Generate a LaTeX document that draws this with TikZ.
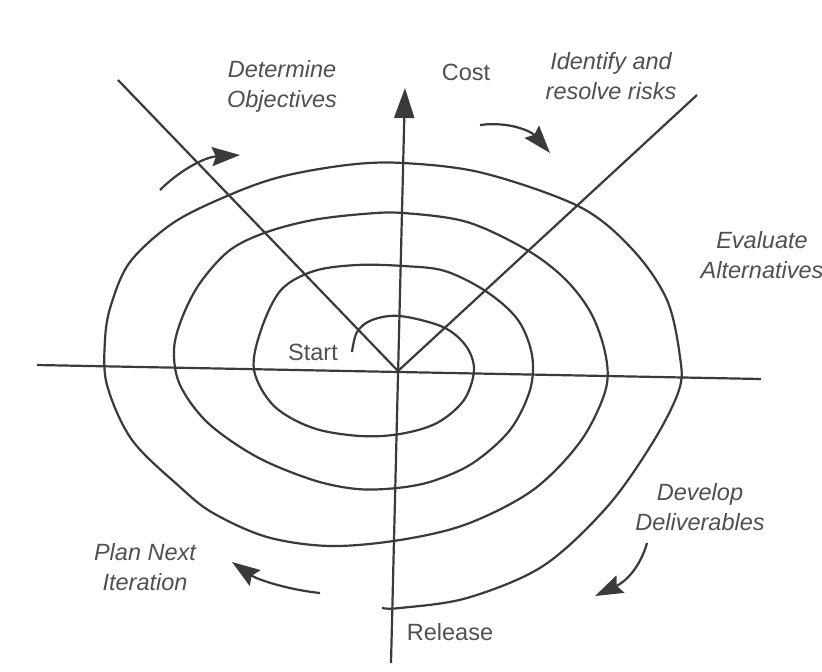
\documentclass[tikz,border=0pt]{standalone}
\usepackage{fontspec}
\setmainfont{Liberation Sans}
\usetikzlibrary{arrows.meta}
\definecolor{inkgrey}{HTML}{3A3A3A}
\definecolor{labelgrey}{HTML}{505050}

\begin{document}
\begin{tikzpicture}[x=1pt, y=-1pt]
  \tikzstyle{quadline}=[draw=inkgrey, line width=2.2pt]
  \tikzstyle{spiral}=[draw=inkgrey, line width=2.2pt, line join=round]
  \tikzstyle{flowarrow}=[draw=inkgrey, line width=2.2pt,
    -{Stealth[length=28pt, width=19pt, inset=4pt]}]
  \tikzstyle{lbl}=[text=labelgrey, align=center, inner sep=0pt,
    font=\fontsize{23.5}{30}\selectfont\itshape]
  \tikzstyle{uplbl}=[text=labelgrey, inner sep=0pt,
    font=\fontsize{23.5}{30}\selectfont]

  \fill[white] (0,0) rectangle (822,672);
  \useasboundingbox (0,0) rectangle (822,672);

  % axes
  \coordinate (ctr)   at (398,371);
  \coordinate (west)  at (37,365);
  \coordinate (east)  at (761,379);
  \coordinate (north) at (405,88);
  \coordinate (south) at (391,663);
  \coordinate (nw)    at (118,80);
  \coordinate (ne)    at (697,95);

  \draw[quadline] (west) -- (east);
  \draw[quadline, -{Triangle[length=30pt, width=20pt]}] (south) -- (north);
  \draw[quadline] (nw) -- (ctr) -- (ne);

  % spiral from Start out to Release
  \draw[spiral] plot[smooth, tension=0.55] coordinates {
    (352,352) (357,332) (372,320) (400,316) (443,327) (466,346)
    (474,370) (464,400) (437,423) (400,434) (360,436) (313,428)
    (274,406) (254,370) (261,330) (281,290) (314,271) (357,265)
    (403,266) (445,271) (487,292) (518,320) (532,355) (530,390)
    (510,430) (473,463) (433,481) (397,488) (357,489) (313,480)
    (257,457) (208,423) (180,385) (174,350) (182,318) (200,283)
    (230,250) (267,232) (313,220) (363,214) (403,213) (467,222)
    (527,250) (566,280) (592,315) (606,357) (605,392) (580,442)
    (533,490) (467,524) (400,540) (330,546) (267,537) (213,513)
    (180,487) (132,440) (107,385) (105,340) (111,305) (130,262)
    (173,223) (227,196) (280,177) (347,165) (403,163) (483,173)
    (580,207) (633,250) (667,300) (680,357) (679,390) (653,442)
    (607,507) (543,566) (467,598) (400,608) (382,608)};

  % labels
  \node[lbl] (objectives) at (282,86) {Determine\\Objectives};
  \node[uplbl] (cost) at (466,72) {Cost};
  \node[lbl] (risks) at (611,76) {Identify and\\resolve risks};
  \node[lbl] (alternatives) at (762,255) {Evaluate\\Alternatives};
  \node[lbl] (deliverables) at (700,507) {Develop\\Deliverables};
  \node[lbl] (plannext) at (145,567) {Plan Next\\Iteration};
  \node[uplbl] (release) at (450,632) {Release};
  \node[uplbl] (start) at (313,352) {Start};

  % direction arrows
  \coordinate (objA) at (160,190);
  \coordinate (objB) at (240,155);
  \coordinate (riskA) at (480,125);
  \coordinate (riskB) at (550,153);
  \coordinate (delA) at (647,543);
  \coordinate (delB) at (595,596);
  \coordinate (planA) at (320,593);
  \coordinate (planB) at (232,562);

  \draw[flowarrow] (objA) .. controls (180,170) and (205,157) .. (objB);
  \draw[flowarrow] (riskA) .. controls (510,121) and (532,132) .. (riskB);
  \draw[flowarrow] (delA) .. controls (640,568) and (625,582) .. (delB);
  \draw[flowarrow] (planA) .. controls (290,590) and (258,580) .. (planB);
\end{tikzpicture}
\end{document}
